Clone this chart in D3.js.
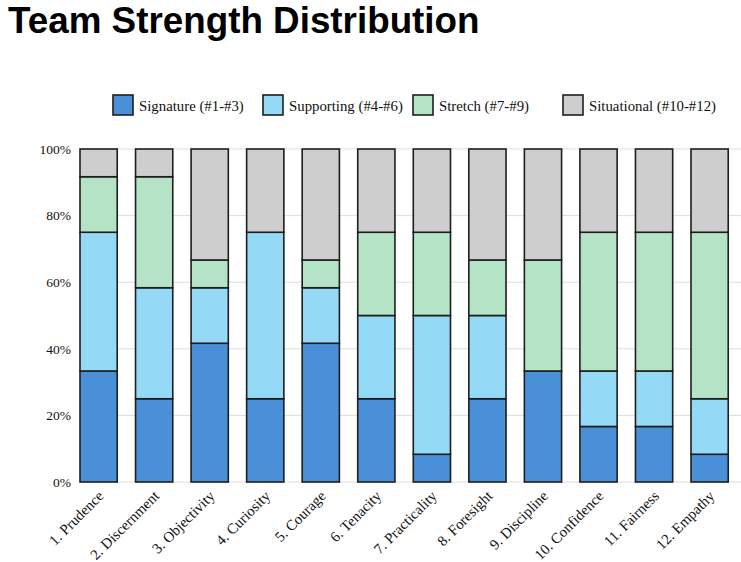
<!DOCTYPE html>
<html><head><meta charset="utf-8">
<script src="https://cdn.jsdelivr.net/npm/d3@7"></script>
<style>body{margin:0;background:#fff}svg{display:block}</style>
</head><body>
<svg id="chart" width="741" height="562"></svg>
<script>
const categories = ["1. Prudence","2. Discernment","3. Objectivity","4. Curiosity","5. Courage","6. Tenacity","7. Practicality","8. Foresight","9. Discipline","10. Confidence","11. Fairness","12. Empathy"];
const seriesNames = ["Signature (#1-#3)","Supporting (#4-#6)","Stretch (#7-#9)","Situational (#10-#12)"];
const signature   = [4,3,5,3,5,3,1,3,4,2,2,1];
const supporting  = [5,4,2,6,2,3,5,3,0,2,2,2];
const stretch     = [2,4,1,0,1,3,3,2,4,5,5,6];
const situational = [1,1,4,3,4,3,3,4,4,3,3,3];
const yTicks = [0,0.2,0.4,0.6,0.8,1];
const colors = ["#4a90d9","#94d9f6","#b5e3c6","#cecece"];

(function(){
const svg = d3.select("#chart");
const mLeft = 80, mRight = 741, mTop = 149, mBottom = 482;

svg.append("text").attr("x",8).attr("y",33)
  .attr("font-family","'Liberation Sans', Arial, sans-serif")
  .attr("font-weight","bold").attr("font-size",36.8).attr("fill","#000")
  .text("Team Strength Distribution");

const rows = categories.map((c,i)=>{
  const tot = signature[i]+supporting[i]+stretch[i]+situational[i];
  return {cat:c, s0:signature[i]/tot, s1:supporting[i]/tot, s2:stretch[i]/tot, s3:situational[i]/tot};
});
const stack = d3.stack().keys(["s0","s1","s2","s3"])(rows);

const x = d3.scaleBand().domain(categories).range([mLeft,mRight])
  .paddingInner(0.33).paddingOuter(0.115).align(0);
const y = d3.scaleLinear().domain([0,1]).range([mBottom,mTop]);

svg.append("g").selectAll("line").data(yTicks).join("line")
  .attr("x1",mLeft).attr("x2",mRight)
  .attr("y1",d=>y(d)).attr("y2",d=>y(d))
  .attr("stroke","#dddddd").attr("stroke-width",1);

const yAxis = svg.append("g").attr("transform",`translate(${mLeft},0)`)
  .call(d3.axisLeft(y).tickValues(yTicks).tickFormat(d3.format(".0%")).tickSize(0).tickPadding(9));
yAxis.select(".domain").remove();
yAxis.selectAll("text").attr("font-family","'Liberation Serif', 'Times New Roman', serif")
  .attr("font-size",13.5).attr("fill","#111");

svg.append("g").selectAll("g").data(stack).join("g")
  .attr("fill",(d,i)=>colors[i])
  .selectAll("rect").data(d=>d).join("rect")
  .attr("x",d=>x(d.data.cat)).attr("width",x.bandwidth())
  .attr("y",d=>y(d[1])).attr("height",d=>y(d[0])-y(d[1]))
  .attr("stroke","#1e1e1e").attr("stroke-width",1.6);

const xAxis = svg.append("g").attr("transform",`translate(0,${mBottom})`)
  .call(d3.axisBottom(x).tickSize(0).tickPadding(6));
xAxis.select(".domain").remove();
xAxis.selectAll("text").attr("font-family","'Liberation Serif', 'Times New Roman', serif")
  .attr("font-size",14.8).attr("fill","#111")
  .attr("text-anchor","end").attr("dy","0.35em")
  .attr("transform","translate(-2,7) rotate(-45)");

const leg = svg.append("g").selectAll("g").data(seriesNames).join("g")
  .attr("transform",(d,i)=>`translate(${113+i*150},95)`);
leg.append("rect").attr("width",20).attr("height",20)
  .attr("fill",(d,i)=>colors[i]).attr("stroke","#1e1e1e").attr("stroke-width",1.6);
leg.append("text").attr("x",26).attr("y",15.5)
  .attr("font-family","'Liberation Serif', 'Times New Roman', serif")
  .attr("font-size",14.8).attr("fill","#111").text(d=>d);
})();
</script>
</body></html>
